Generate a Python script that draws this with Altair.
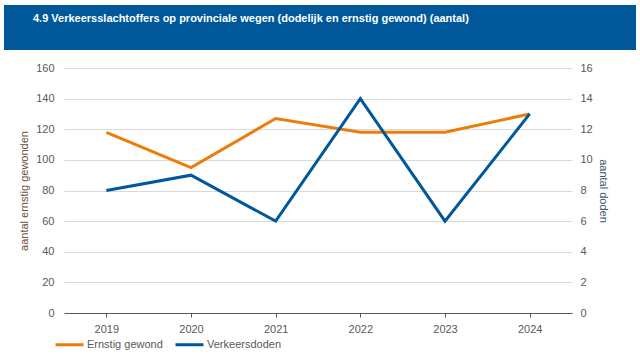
import altair as alt
import pandas as pd

years = ["2019", "2020", "2021", "2022", "2023", "2024"]
ernstig_gewond = [118, 95, 127, 118, 118, 130]
verkeersdoden = [8, 9, 6, 14, 6, 13]
series = ["Ernstig gewond", "Verkeersdoden"]
colors = ["#ED7D0B", "#00589A"]
title_text = "4.9 Verkeersslachtoffers op provinciale wegen (dodelijk en ernstig gewond) (aantal)"

df1 = pd.DataFrame({"jaar": years, "waarde": ernstig_gewond, "reeks": series[0]})
df2 = pd.DataFrame({"jaar": years, "waarde": verkeersdoden, "reeks": series[1]})

FONT = "Liberation Sans"
LABEL = "#595959"

color = alt.Color(
    "reeks:N",
    scale=alt.Scale(domain=series, range=colors),
    legend=alt.Legend(
        title=None, orient="none", legendX=-10, legendY=261, direction="horizontal",
        symbolType="stroke", symbolStrokeWidth=3, symbolSize=784,
        labelFont=FONT, labelFontSize=11, labelColor=LABEL, columnPadding=6,
        symbolOffset=0, labelOffset=2,
    ),
)

x = alt.X(
    "jaar:O", title=None, sort=years,
    scale=alt.Scale(paddingInner=1, paddingOuter=0.5),
    axis=alt.Axis(labelAngle=0, labelFont=FONT, labelFontSize=11, labelColor=LABEL,
                  domainColor="#595959", tickColor="#595959", tickSize=4, labelPadding=6,
                  grid=False),
)

left = alt.Chart(df1).mark_line(strokeWidth=3, clip=False).encode(
    x=x,
    y=alt.Y("waarde:Q", title="aantal ernstig gewonden",
            scale=alt.Scale(domain=[0, 160]),
            axis=alt.Axis(values=list(range(0, 161, 20)), domain=False, ticks=False,
                          labelPadding=10, labelFont=FONT, labelFontSize=11, labelColor=LABEL,
                          titleFont=FONT, titleFontSize=11, titleFontWeight="normal",
                          titleColor="#6E4E3C", titlePadding=6,
                          gridColor="#D9D9D9")),
    color=color,
)

right = alt.Chart(df2).mark_line(strokeWidth=3, clip=False).encode(
    x=x,
    y=alt.Y("waarde:Q", title="aantal doden",
            scale=alt.Scale(domain=[0, 16]),
            axis=alt.Axis(orient="right", values=list(range(0, 17, 2)), domain=False, ticks=False,
                          grid=False, labelPadding=8, labelFont=FONT, labelFontSize=11,
                          labelColor=LABEL, titleFont=FONT, titleFontSize=11,
                          titleFontWeight="normal", titleColor="#44546A", titlePadding=5)),
    color=color,
)

bar = alt.Chart(pd.DataFrame({"t": [title_text]})).mark_rect(color="#00589A", clip=False).encode(
    x=alt.value(-60), x2=alt.value(572), y=alt.value(-63), y2=alt.value(-18)
)
title = alt.Chart(pd.DataFrame({"t": [title_text]})).mark_text(
    align="left", baseline="middle", color="white", font=FONT,
    fontSize=11, fontWeight="bold", clip=False
).encode(x=alt.value(-31), y=alt.value(-49), text="t:N")

chart = alt.layer(bar, title, left, right).resolve_scale(y="independent", color="shared").properties(
    width=508, height=245,
    autosize=alt.AutoSizeParams(type="none"),
    padding={"left": 64, "top": 68, "right": 68, "bottom": 44},
    background="white",
).configure_view(stroke=None)

chart.save("out.html", embed_options={"renderer": "svg", "actions": False})
